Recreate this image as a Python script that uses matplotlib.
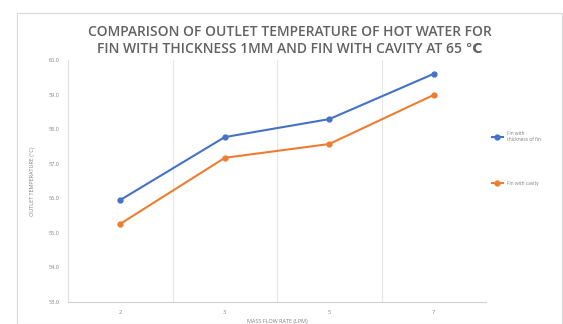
import matplotlib.pyplot as plt
from matplotlib.patches import Rectangle

plt.rcParams['font.family'] = ['Open Sans', 'DejaVu Sans']

# Mass flow rate categories and outlet temperatures
flow_rates = ["2", "3", "5", "7"]
fin_thickness = [55.95, 57.77, 58.29, 59.6]
fin_cavity = [55.26, 57.17, 57.57, 58.99]
y_ticks = [53, 54, 55, 56, 57, 58, 59, 60]

fig = plt.figure(figsize=(5.63, 3.24), dpi=100)
fig.patches.append(Rectangle((17 / 563, 0), 1 - 17 / 563 - 0.002, 1 - 13 / 324,
                             transform=fig.transFigure, fill=False,
                             edgecolor="#d9d9d9", linewidth=0.8))

ax = fig.add_axes([68 / 563, (324 - 302) / 324, (486 - 68) / 563, (302 - 60) / 324])

x = list(range(len(flow_rates)))
ax.plot(x, fin_thickness, color="#4472c4", marker="o", markersize=3.5,
        linewidth=1.5, label="Fin with\nthickness of fin")
ax.plot(x, fin_cavity, color="#ed7d31", marker="o", markersize=3.5,
        linewidth=1.5, label="Fin with cavity")

ax.set_xlim(-0.5, len(flow_rates) - 0.5)
ax.set_ylim(y_ticks[0], y_ticks[-1])
ax.set_xticks(x)
ax.set_xticklabels(flow_rates)
ax.set_yticks(y_ticks)
ax.set_yticklabels([f"{v:.1f}" for v in y_ticks])
ax.tick_params(length=0, labelsize=4, colors="#808080", pad=6)

# vertical separators between categories
for b in [0.5, 1.5, 2.5, 3.5]:
    ax.axvline(b, color="#e6e6e6", linewidth=0.8, zorder=0)

for side in ["top", "right"]:
    ax.spines[side].set_visible(False)
ax.spines["left"].set_color("#e0e0e0")
ax.spines["bottom"].set_color("#d0d0d0")

ax.set_xlabel("MASS FLOW RATE (LPM)", fontsize=4, color="#808080", labelpad=3)
ax.set_ylabel("OUTLET TEMPERATURE (°C)", fontsize=4, color="#808080", labelpad=10)

fig.text(0.515, 0.875, "COMPARISON OF OUTLET TEMPERATURE OF HOT WATER FOR\n"
         "FIN WITH THICKNESS 1MM AND FIN WITH CAVITY AT 65 \u2103",
         ha="center", va="center", fontsize=10, fontweight="semibold",
         color="#626262", linespacing=1.3)

fig.legend(loc="center left", bbox_to_anchor=(490 / 563, 0.51), frameon=False,
           fontsize=3.5, labelcolor="#808080", handlelength=2.2,
           labelspacing=8, borderaxespad=0)

fig.savefig("out.png", dpi=100)
